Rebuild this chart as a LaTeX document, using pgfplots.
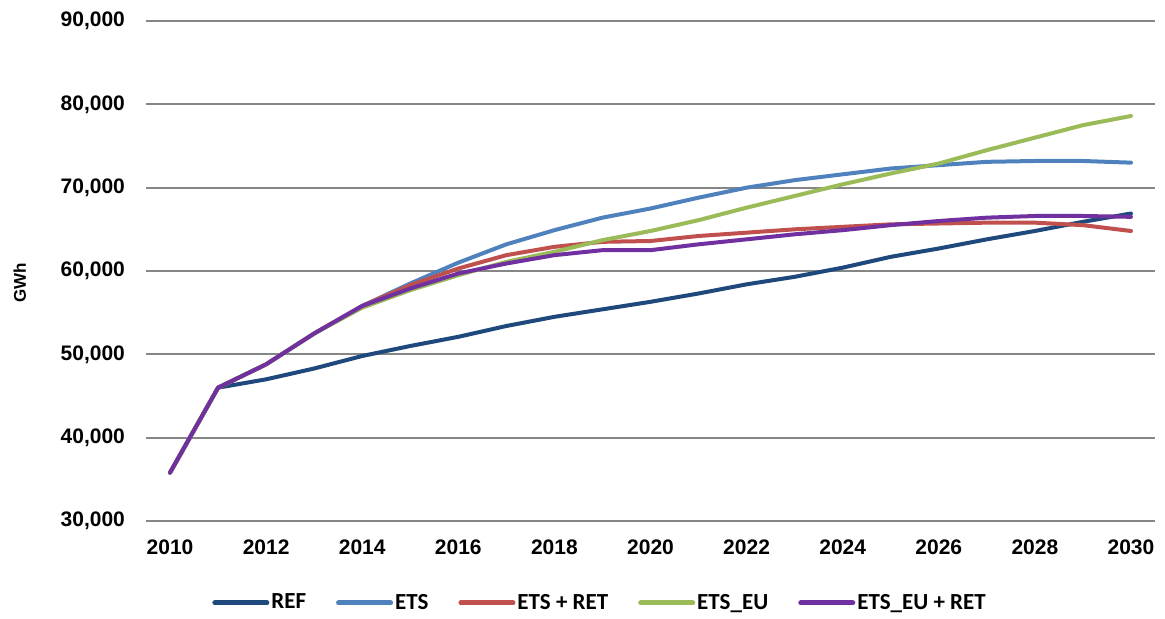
\documentclass[border=0pt]{standalone}
\usepackage{fontspec}
\setmainfont{Liberation Sans}
\newfontfamily\legfont{Carlito}
\usepackage{pgfplots}
\pgfplotsset{compat=1.18}

\definecolor{cREF}{RGB}{31,73,125}
\definecolor{cETS}{RGB}{79,129,189}
\definecolor{cRET}{RGB}{192,80,77}
\definecolor{cEU}{RGB}{155,187,89}
\definecolor{cEURET}{RGB}{112,48,160}
\definecolor{gridc}{RGB}{134,134,134}

\begin{document}
\begin{tikzpicture}
\begin{axis}[
  scale only axis,
  width=504.5pt, height=250pt,
  xmin=2009.5, xmax=2030.5,
  ymin=30000, ymax=90000,
  xtick={2010,2012,...,2030},
  ytick={30000,40000,...,90000},
  scaled y ticks=false,
  axis line style={draw=none},
  tick style={draw=none},
  ymajorgrids,
  grid style={gridc, line width=1pt},
  xticklabel style={/pgf/number format/1000 sep={}},
  yticklabel style={/pgf/number format/fixed, /pgf/number format/1000 sep={,}},
  /pgf/number format/assume math mode=true,
  ticklabel style={font=\bfseries\fontsize{10.5}{12}\selectfont},
  xticklabel shift=6pt,
  yticklabel shift=7pt,
  ylabel={GWh},
  ylabel style={font=\bfseries\fontsize{8.5}{10}\selectfont, at={(axis description cs:-0.125,0.476)}, anchor=center},
  legend columns=5,
  legend style={draw=none, at={(rel axis cs:0.45,-0.164)}, anchor=center,
    font=\legfont\bfseries\fontsize{11.5}{13}\selectfont,
    nodes={inner sep=1pt},
    /tikz/every even column/.append style={column sep=14pt}},
  legend image code/.code={\draw[#1, line width=2.5pt] (0pt,0pt) -- (26pt,0pt);},
  every axis plot/.append style={line width=2pt, line join=round, line cap=round}
]
\addplot[cREF] coordinates {
 (2010,35800) (2011,46000) (2012,47000) (2013,48300) (2014,49800) (2015,51000)
 (2016,52100) (2017,53400) (2018,54500) (2019,55400) (2020,56300) (2021,57300)
 (2022,58400) (2023,59300) (2024,60400) (2025,61700) (2026,62700) (2027,63800)
 (2028,64800) (2029,65900) (2030,66900)};
\addlegendentry{REF}
\addplot[cETS] coordinates {
 (2010,35800) (2011,46000) (2012,48800) (2013,52500) (2014,55800) (2015,58500)
 (2016,61000) (2017,63200) (2018,64900) (2019,66400) (2020,67500) (2021,68800)
 (2022,70000) (2023,70900) (2024,71600) (2025,72300) (2026,72700) (2027,73100)
 (2028,73200) (2029,73200) (2030,73000)};
\addlegendentry{ETS}
\addplot[cRET] coordinates {
 (2010,35800) (2011,46000) (2012,48800) (2013,52500) (2014,55800) (2015,58300)
 (2016,60300) (2017,61900) (2018,62900) (2019,63500) (2020,63600) (2021,64200)
 (2022,64600) (2023,65000) (2024,65300) (2025,65600) (2026,65700) (2027,65800)
 (2028,65800) (2029,65500) (2030,64800)};
\addlegendentry{ETS + RET}
\addplot[cEU] coordinates {
 (2010,35800) (2011,46000) (2012,48800) (2013,52500) (2014,55600) (2015,57700)
 (2016,59500) (2017,61100) (2018,62300) (2019,63700) (2020,64800) (2021,66100)
 (2022,67600) (2023,69000) (2024,70400) (2025,71700) (2026,72900) (2027,74500)
 (2028,76000) (2029,77500) (2030,78600)};
\addlegendentry{ETS\_EU}
\addplot[cEURET] coordinates {
 (2010,35800) (2011,46000) (2012,48800) (2013,52500) (2014,55800) (2015,57900)
 (2016,59700) (2017,60900) (2018,61900) (2019,62500) (2020,62500) (2021,63200)
 (2022,63800) (2023,64400) (2024,64900) (2025,65500) (2026,66000) (2027,66400)
 (2028,66600) (2029,66600) (2030,66500)};
\addlegendentry{ETS\_EU + RET}
\end{axis}
\path (current axis.south west) ++(-73pt,-47pt) coordinate (bbA);
\path (current axis.north east) ++(5pt,10.5pt) coordinate (bbB);
\path (bbA) rectangle (bbB);
\end{tikzpicture}
\end{document}
